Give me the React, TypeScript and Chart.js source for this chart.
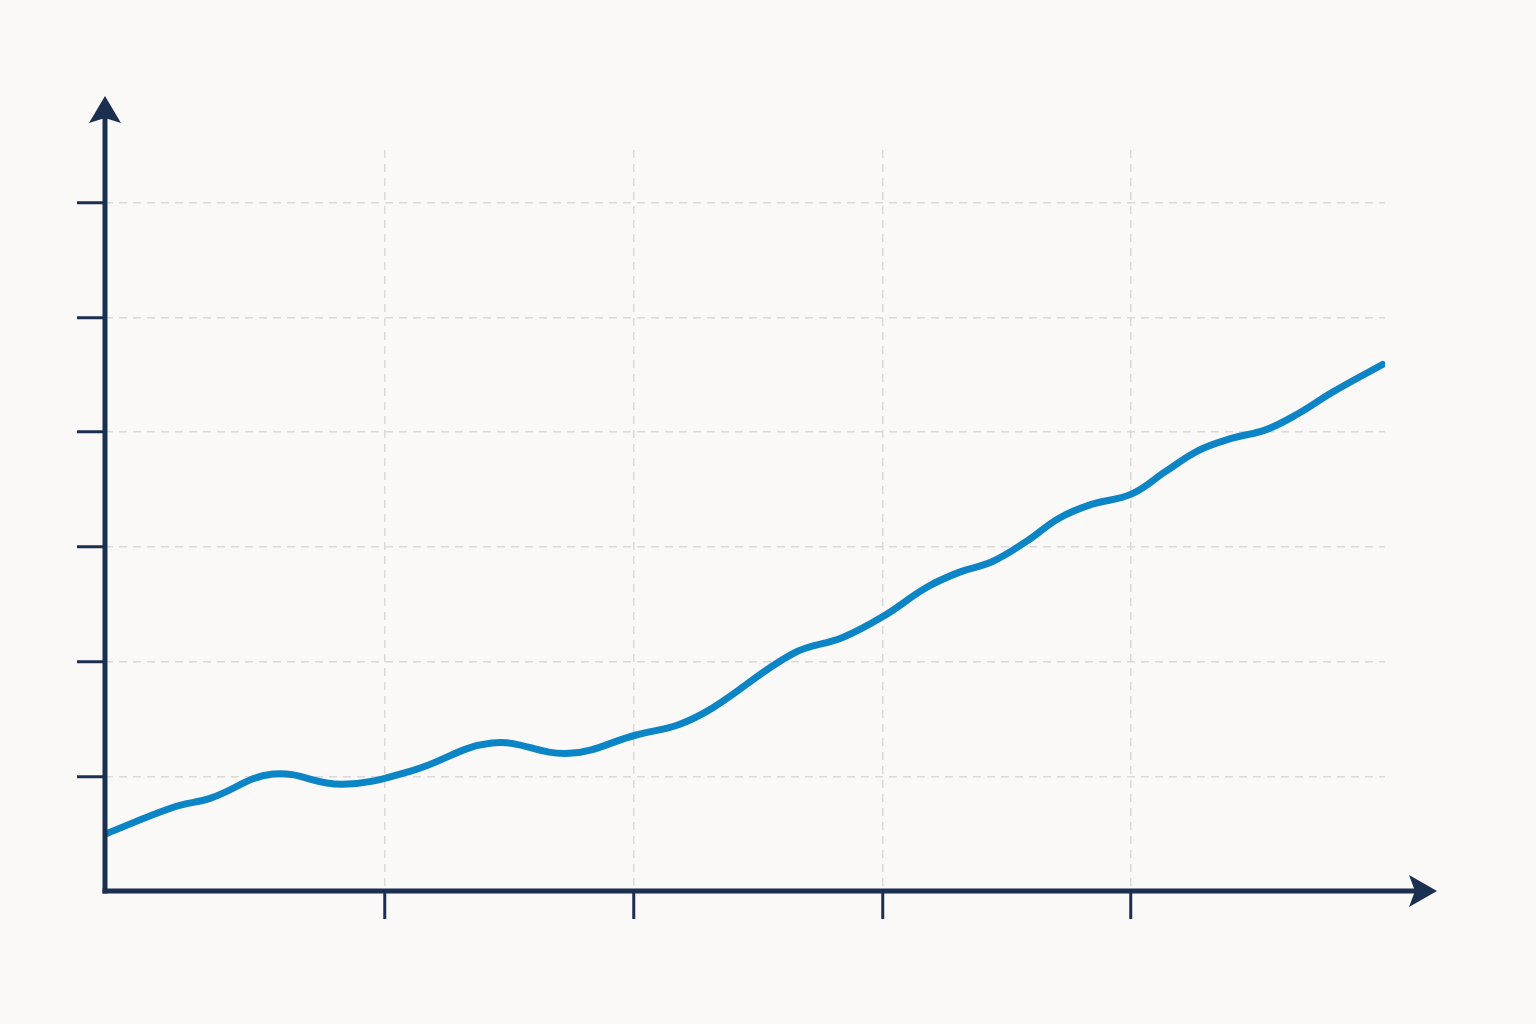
import { useEffect, useRef } from "react";
import { Chart, registerables } from "chart.js";

Chart.register(...registerables);

// curve (x in tick units, y in grid-step units)
const xValues = [
  -0.12, 0.15, 0.3, 0.55, 0.83, 1.11, 1.43, 1.74, 2.01, 2.18, 2.32, 2.64, 2.84, 3.0,
  3.18, 3.31, 3.44, 3.58, 3.71, 3.84, 4.0, 4.14, 4.27, 4.41, 4.54, 4.67, 4.81, 5.01,
];
const yValues = [
  0.5, 0.73, 0.81, 1.02, 0.93, 1.05, 1.29, 1.2, 1.36, 1.45, 1.6, 2.07, 2.21, 2.39,
  2.65, 2.78, 2.87, 3.05, 3.25, 3.37, 3.46, 3.66, 3.84, 3.95, 4.02, 4.16, 4.35, 4.59,
];
const xTicks = [1, 2, 3, 4];
const yTicks = [1, 2, 3, 4, 5, 6];

const NAVY = "#1b2f51";
const BLUE = "#0b85c5";
const GRID = "#dadada";
const BG = "#faf9f7";

const arrowAxes = {
  id: "arrowAxes",
  afterDraw(chart: Chart) {
    const { ctx, chartArea } = chart;
    const { left, right, top, bottom } = chartArea;
    ctx.save();
    ctx.strokeStyle = NAVY;
    ctx.fillStyle = NAVY;
    ctx.lineWidth = 5;

    // y axis with arrow head
    const yTip = top - 54;
    ctx.beginPath();
    ctx.moveTo(left, bottom + 2.5);
    ctx.lineTo(left, yTip + 20);
    ctx.stroke();
    ctx.beginPath();
    ctx.moveTo(left, yTip);
    ctx.lineTo(left + 16, yTip + 27);
    ctx.lineTo(left, yTip + 22);
    ctx.lineTo(left - 16, yTip + 27);
    ctx.closePath();
    ctx.fill();

    // x axis with arrow head
    const xTip = right + 52;
    ctx.beginPath();
    ctx.moveTo(left - 2.5, bottom);
    ctx.lineTo(xTip - 20, bottom);
    ctx.stroke();
    ctx.beginPath();
    ctx.moveTo(xTip, bottom);
    ctx.lineTo(xTip - 28, bottom - 16);
    ctx.lineTo(xTip - 22, bottom);
    ctx.lineTo(xTip - 28, bottom + 16);
    ctx.closePath();
    ctx.fill();
    ctx.restore();
  },
};

const gridOpts = {
  color: GRID,
  lineWidth: 1.5,
  tickColor: NAVY,
  tickWidth: 3,
  tickLength: 28,
  tickBorderDash: [],
};

const App = () => {
  const canvasRef = useRef<HTMLCanvasElement>(null);
  const chartRef = useRef<Chart | null>(null);

  useEffect(() => {
    if (!canvasRef.current) return;
    if (chartRef.current) chartRef.current.destroy();

    chartRef.current = new Chart(canvasRef.current, {
      type: "line",
      data: {
        datasets: [
          {
            data: xValues.map((x, i) => ({ x, y: yValues[i] })),
            borderColor: BLUE,
            borderWidth: 7,
            borderCapStyle: "round",
            borderJoinStyle: "round",
            pointRadius: 0,
            tension: 0.4,
            fill: false,
          },
        ],
      },
      options: {
        animation: false,
        responsive: true,
        maintainAspectRatio: false,
        layout: { padding: { top: 150, right: 151, left: 0, bottom: 0 } },
        plugins: {
          legend: { display: false },
          tooltip: { enabled: false },
        },
        scales: {
          x: {
            type: "linear",
            min: -0.125,
            max: 5.02,
            afterFit: (s: any) => {
              s.height = 133;
            },
            afterBuildTicks: (s: any) => {
              s.ticks = xTicks.map((value) => ({ value }));
            },
            ticks: { display: false },
            border: { display: false, dash: [8, 6] },
            grid: gridOpts,
          },
          y: {
            type: "linear",
            min: 0,
            max: 6.46,
            afterFit: (s: any) => {
              s.width = 105;
            },
            afterBuildTicks: (s: any) => {
              s.ticks = yTicks.map((value) => ({ value }));
            },
            ticks: { display: false },
            border: { display: false, dash: [8, 6] },
            grid: gridOpts,
          },
        },
      },
      plugins: [arrowAxes],
    });

    return () => {
      if (chartRef.current) {
        chartRef.current.destroy();
        chartRef.current = null;
      }
    };
  }, []);

  return (
    <div style={{ position: "fixed", left: 0, top: 0, width: 1536, height: 1024, background: BG }}>
      <canvas ref={canvasRef}></canvas>
    </div>
  );
};

export default App;
